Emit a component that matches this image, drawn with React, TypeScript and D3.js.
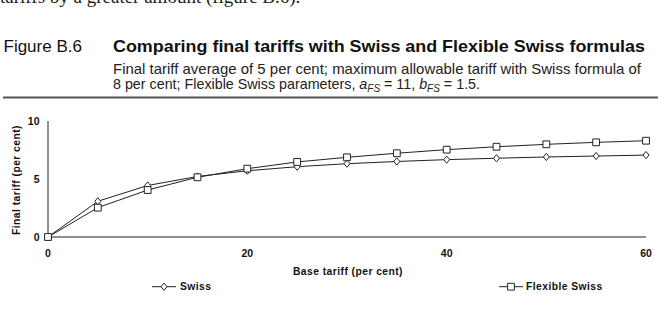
import React from 'react';
import * as d3 from 'd3';

// values
const baseTariffs = [0, 5, 10, 15, 20, 25, 30, 35, 40, 45, 50, 55, 60];
const swiss = [0, 3.08, 4.44, 5.22, 5.71, 6.06, 6.32, 6.51, 6.67, 6.79, 6.9, 6.98, 7.06];
const flexibleSwiss = [0, 2.53, 4.05, 5.15, 5.89, 6.47, 6.87, 7.22, 7.53, 7.78, 7.99, 8.16, 8.3];
const xTicks = [0, 20, 40, 60];
const yTicks = [0, 5, 10];
const seriesNames = ['Swiss', 'Flexible Swiss'];

const W = 665;
const H = 309;
const sans = '"Liberation Sans", Arial, sans-serif';

const diamond = 'M0,-3.6L3,0L0,3.6L-3,0Z';
const square = 'M-3.4,-3.4H3.4V3.4H-3.4Z';

const App = () => {
  const x = d3.scaleLinear().domain([0, 60]).range([48, 646]);
  const y = d3.scaleLinear().domain([0, 10]).range([237, 121]);

  const line = d3.line<number>()
    .x((_, i) => x(baseTariffs[i]))
    .y(d => y(d));

  const series = [
    { name: seriesNames[0], values: swiss, marker: diamond },
    { name: seriesNames[1], values: flexibleSwiss, marker: square },
  ];

  const legendPos = [
    { lx: 152, tx: 180 },
    { lx: 499, tx: 526 },
  ];

  return (
    <svg width={W} height={H} style={{ position: 'absolute', left: 0, top: 0, background: '#fff' }}>
      {/* running text above the figure, cut off at the top */}
      <text x={0} y={3} fontFamily='"Liberation Serif", "Times New Roman", serif' fontSize={19} fill="#222">
        tariffs by a greater amount (figure B.6).
      </text>

      {/* figure heading */}
      <text x={3.5} y={51.5} fontFamily={sans} fontSize={17} fill="#111">Figure B.6</text>
      <text x={113} y={51.5} fontFamily={sans} fontSize={17} fontWeight="bold" fill="#111"
        textLength={532} lengthAdjust="spacingAndGlyphs">
        Comparing final tariffs with Swiss and Flexible Swiss formulas
      </text>
      <text x={113} y={74} fontFamily={sans} fontSize={14.3} fill="#222" textLength={528} lengthAdjust="spacingAndGlyphs">
        Final tariff average of 5 per cent; maximum allowable tariff with Swiss formula of
      </text>
      <text x={113} y={88.5} fontFamily={sans} fontSize={14.3} fill="#222">
        8 per cent; Flexible Swiss parameters, <tspan fontStyle="italic">a</tspan>
        <tspan fontStyle="italic" fontSize={10} dy={3}>FS</tspan>
        <tspan dy={-3}> = 11, </tspan>
        <tspan fontStyle="italic">b</tspan>
        <tspan fontStyle="italic" fontSize={10} dy={3}>FS</tspan>
        <tspan dy={-3}> = 1.5.</tspan>
      </text>
      <line x1={3} x2={658} y1={97.5} y2={97.5} stroke="#555" strokeWidth={2} />

      {/* axes */}
      <line x1={x(0)} x2={x(0)} y1={y(10)} y2={y(0)} stroke="#222" strokeWidth={1} />
      <line x1={x(0)} x2={x(60)} y1={y(0)} y2={y(0)} stroke="#222" strokeWidth={1.2} />
      {yTicks.map(t => (
        <text key={t} x={39.5} y={y(t)} dy="0.35em" textAnchor="end" fontFamily={sans}
          fontSize={10.5} fontWeight="bold" fill="#111">{t}</text>
      ))}
      {xTicks.map(t => (
        <text key={t} x={x(t)} y={253.5} dy="0.35em" textAnchor="middle" fontFamily={sans}
          fontSize={10.5} fontWeight="bold" fill="#111">{t}</text>
      ))}
      <text x={348} y={271.7} dy="0.35em" textAnchor="middle" fontFamily={sans} fontSize={10.3}
        fontWeight="bold" fill="#111" letterSpacing={0.45}>Base tariff (per cent)</text>
      <text transform="translate(16.5,180) rotate(-90)" dy="0.35em" textAnchor="middle" fontFamily={sans}
        fontSize={10.3} fontWeight="bold" fill="#111" letterSpacing={0.45}>Final tariff (per cent)</text>

      {/* series */}
      {series.map(s => (
        <g key={s.name}>
          <path d={line(s.values) || ''} fill="none" stroke="#222" strokeWidth={1} />
          {s.values.map((v, i) => (
            <path key={i} d={s.marker} transform={`translate(${x(baseTariffs[i])},${y(v)})`}
              fill="#fff" stroke="#222" strokeWidth={1} />
          ))}
        </g>
      ))}

      {/* legend */}
      {series.map((s, i) => (
        <g key={s.name}>
          <line x1={legendPos[i].lx} x2={legendPos[i].lx + 24} y1={286.7} y2={286.7} stroke="#222" strokeWidth={1} />
          <path d={s.marker} transform={`translate(${legendPos[i].lx + 12},286.7)`} fill="#fff" stroke="#222" />
          <text x={legendPos[i].tx} y={286.7} dy="0.35em" fontFamily={sans} fontSize={10.3}
            fontWeight="bold" fill="#111" letterSpacing={0.45}>{s.name}</text>
        </g>
      ))}
    </svg>
  );
};

export default App;
